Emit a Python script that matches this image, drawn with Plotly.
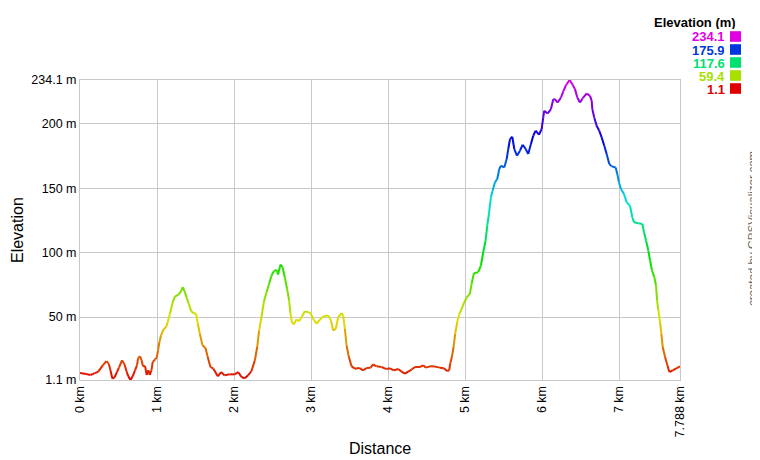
import colorsys
import plotly.graph_objects as go

# ---- data ----
dist_km = [0.0, 0.08, 0.135, 0.186, 0.238, 0.295, 0.343, 0.373, 0.395, 0.42, 0.447, 0.48, 0.506, 0.545,
           0.577, 0.607, 0.628, 0.655, 0.684, 0.714, 0.74, 0.753, 0.779, 0.80, 0.818, 0.844, 0.866, 0.888,
           0.905, 0.927, 0.944, 0.974, 0.996, 1.013, 1.031, 1.052, 1.083, 1.117, 1.139, 1.169, 1.204, 1.234,
           1.278, 1.312, 1.334, 1.356, 1.382, 1.412, 1.442, 1.477, 1.507, 1.529, 1.555, 1.59, 1.628, 1.658,
           1.693, 1.732, 1.788, 1.832, 1.875, 1.94, 2.009, 2.052, 2.096, 2.139, 2.182, 2.226, 2.27, 2.30,
           2.325, 2.356, 2.386, 2.421, 2.455, 2.486, 2.516, 2.551, 2.571, 2.603, 2.629, 2.658, 2.688, 2.714,
           2.732, 2.75, 2.776, 2.81, 2.844, 2.875, 2.918, 2.961, 2.992, 3.026, 3.07, 3.113, 3.156, 3.221,
           3.256, 3.286, 3.321, 3.351, 3.395, 3.416, 3.438, 3.46, 3.49, 3.525, 3.568, 3.623, 3.675, 3.719,
           3.771, 3.805, 3.849, 3.914, 3.979, 4.022, 4.074, 4.13, 4.174, 4.217, 4.26, 4.304, 4.347, 4.412,
           4.455, 4.49, 4.542, 4.607, 4.672, 4.723, 4.766, 4.792, 4.805, 4.827, 4.849, 4.87, 4.896, 4.922,
           4.953, 4.983, 5.018, 5.061, 5.083, 5.113, 5.169, 5.204, 5.234, 5.265, 5.286, 5.308, 5.334, 5.356,
           5.386, 5.416, 5.442, 5.464, 5.507, 5.538, 5.559, 5.581, 5.611, 5.637, 5.672, 5.711, 5.746, 5.785,
           5.818, 5.853, 5.883, 5.914, 5.957, 5.992, 6.013, 6.026, 6.07, 6.113, 6.143, 6.165, 6.2, 6.243,
           6.273, 6.308, 6.355, 6.39, 6.425, 6.455, 6.49, 6.525, 6.577, 6.62, 6.642, 6.65, 6.675, 6.706,
           6.74, 6.771, 6.805, 6.836, 6.87, 6.901, 6.953, 6.974, 6.996, 7.022, 7.061, 7.096, 7.139, 7.169,
           7.191, 7.247, 7.3, 7.321, 7.347, 7.377, 7.399, 7.425, 7.455, 7.477, 7.49, 7.507, 7.529, 7.546,
           7.564, 7.594, 7.624, 7.65, 7.694, 7.746, 7.788]
elev_m = [6.5, 5.7, 5.0, 6.3, 7.6, 12.5, 15.8, 13.8, 8.6, 2.2, 3.0, 7.3, 10.7, 16.4,
          13.3, 7.3, 4.0, 1.1, 4.0, 8.6, 12.5, 17.9, 19.5, 16.4, 11.7, 12.0, 5.0, 8.6,
          5.0, 8.6, 15.0, 17.1, 18.5, 24.1, 30.6, 35.8, 40.2, 42.2, 46.1, 53.0, 61.6, 66.0,
          67.5, 70.1, 73.2, 70.1, 65.4, 60.3, 54.6, 53.0, 52.6, 44.8, 37.1, 28.0, 26.2, 18.9,
          11.2, 9.9, 4.0, 7.3, 4.7, 5.5, 5.5, 7.3, 3.4, 2.4, 4.7, 8.1, 16.4, 26.7,
          39.6, 49.9, 61.6, 69.3, 75.8, 82.3, 85.6, 86.7, 83.0, 90.8, 88.7, 80.9, 71.9, 62.9,
          52.6, 46.1, 44.3, 48.2, 46.8, 49.9, 54.4, 53.8, 53.0, 48.7, 44.8, 47.9, 50.5, 51.3,
          47.4, 39.6, 40.9, 49.9, 53.0, 51.3, 40.9, 28.0, 18.9, 11.7, 9.9, 10.5, 8.6, 10.4,
          10.7, 13.3, 11.7, 11.2, 9.6, 10.2, 8.6, 9.6, 7.6, 6.1, 7.6, 9.2, 11.2, 11.2,
          12.5, 10.7, 11.7, 11.5, 10.7, 10.2, 8.1, 8.6, 13.8, 18.9, 26.7, 37.1, 46.1, 52.0,
          56.4, 60.8, 65.0, 68.1, 75.8, 84.0, 84.8, 90.0, 100.3, 109.4, 121.0, 130.1, 143.0, 148.2,
          154.6, 157.2, 165.0, 167.5, 166.2, 172.7, 180.5, 188.2, 190.0, 180.5, 175.3, 179.2, 183.8, 180.5,
          176.6, 184.4, 190.8, 194.7, 191.6, 196.0, 205.0, 210.2, 208.1, 211.5, 219.2, 219.2, 216.6, 220.5,
          225.3, 230.0, 234.1, 230.8, 227.0, 220.5, 216.6, 220.0, 223.6, 221.8, 217.9, 211.5, 205.0, 198.5,
          194.7, 189.5, 183.0, 176.6, 168.9, 167.0, 166.2, 161.1, 154.6, 149.5, 145.6, 139.1, 136.5, 127.5,
          123.6, 122.8, 122.3, 115.8, 109.4, 101.6, 93.9, 86.1, 80.9, 74.5, 62.9, 55.1, 46.1, 37.1,
          26.7, 18.9, 12.5, 7.3, 8.6, 10.4, 11.7]

x_tick_vals = [0, 1, 2, 3, 4, 5, 6, 7, 7.788]
x_tick_text = ["0 km", "1 km", "2 km", "3 km", "4 km", "5 km", "6 km", "7 km", "7.788 km"]
y_tick_vals = [1.1, 50, 100, 150, 200, 234.1]
y_tick_text = ["1.1 m", "50 m", "100 m", "150 m", "200 m", "234.1 m"]
legend_vals = [234.1, 175.9, 117.6, 59.4, 1.1]

E_MIN, E_MAX = 1.1, 234.1


def elev_color(e):
    t = (e - E_MIN) / (E_MAX - E_MIN)
    t = min(max(t, 0.0), 1.0)
    r, g, b = colorsys.hsv_to_rgb(300.0 * t / 360.0, 1.0, 0.88)
    return "rgb(%d,%d,%d)" % (round(r * 255), round(g * 255), round(b * 255))


FONT = "Liberation Sans, Arial, sans-serif"
GRID = "#c8c8c8"

fig = go.Figure()
for i in range(len(dist_km) - 1):
    mid = (elev_m[i] + elev_m[i + 1]) / 2.0
    fig.add_trace(go.Scatter(
        x=dist_km[i:i + 2], y=elev_m[i:i + 2], mode="lines",
        line=dict(color=elev_color(mid), width=2),
        showlegend=False, hoverinfo="skip"))

# page body has an 8px margin, so the figure is 8px smaller and margins shifted
fig.update_layout(
    width=752, height=452,
    margin=dict(l=72, r=80, t=72, b=80, pad=0),
    paper_bgcolor="white", plot_bgcolor="white",
    font=dict(family=FONT, size=12.5, color="#000"),
    xaxis=dict(range=[0, 7.788], tickvals=x_tick_vals, ticktext=x_tick_text,
               tickangle=-90, showgrid=True, gridcolor=GRID, gridwidth=1,
               showline=True, linecolor=GRID, linewidth=1, mirror=True,
               zeroline=False, ticks="", tickfont=dict(size=12.5)),
    yaxis=dict(range=[E_MIN, E_MAX], tickvals=y_tick_vals, ticktext=y_tick_text,
               showgrid=True, gridcolor=GRID, gridwidth=1,
               showline=True, linecolor=GRID, linewidth=1, mirror=True,
               zeroline=False, ticks="", tickfont=dict(size=12.5)),
)


def px_x(px):
    return (px - 80) / 600.0


def px_y(py):
    return (380 - py) / 300.0


annotations = [
    dict(text="Elevation", xref="paper", yref="paper", x=px_x(17), y=px_y(230),
         xanchor="center", yanchor="middle", textangle=-90, showarrow=False,
         font=dict(family=FONT, size=16, color="#000")),
    dict(text="Distance", xref="paper", yref="paper", x=px_x(380), y=px_y(448),
         xanchor="center", yanchor="middle", showarrow=False,
         font=dict(family=FONT, size=16, color="#000")),
    dict(text="created by GPSVisualizer.com", xref="paper", yref="paper",
         x=px_x(752), y=px_y(229), xanchor="center", yanchor="middle", textangle=-90,
         showarrow=False, font=dict(family=FONT, size=11.5, color="#666")),
    dict(text="<b>Elevation (m)</b>", xref="paper", yref="paper",
         x=px_x(738), y=px_y(22), xanchor="right", yanchor="middle",
         showarrow=False, height=14, font=dict(family=FONT, size=13, color="#000")),
]
shapes = []
for i, v in enumerate(legend_vals):
    cy = 36.5 + 13.0 * i
    col = elev_color(v)
    annotations.append(dict(
        text="<b>%s</b>" % v, xref="paper", yref="paper",
        x=px_x(727), y=px_y(cy), xanchor="right", yanchor="middle", height=12,
        showarrow=False, font=dict(family=FONT, size=13, color=col)))
    shapes.append(dict(
        type="rect", xref="paper", yref="paper",
        x0=px_x(730), x1=px_x(741),
        y0=px_y(cy + 5.3), y1=px_y(cy - 5.3),
        fillcolor=col, line=dict(width=0)))

fig.update_layout(annotations=annotations, shapes=shapes)
fig.write_html("out.html")
